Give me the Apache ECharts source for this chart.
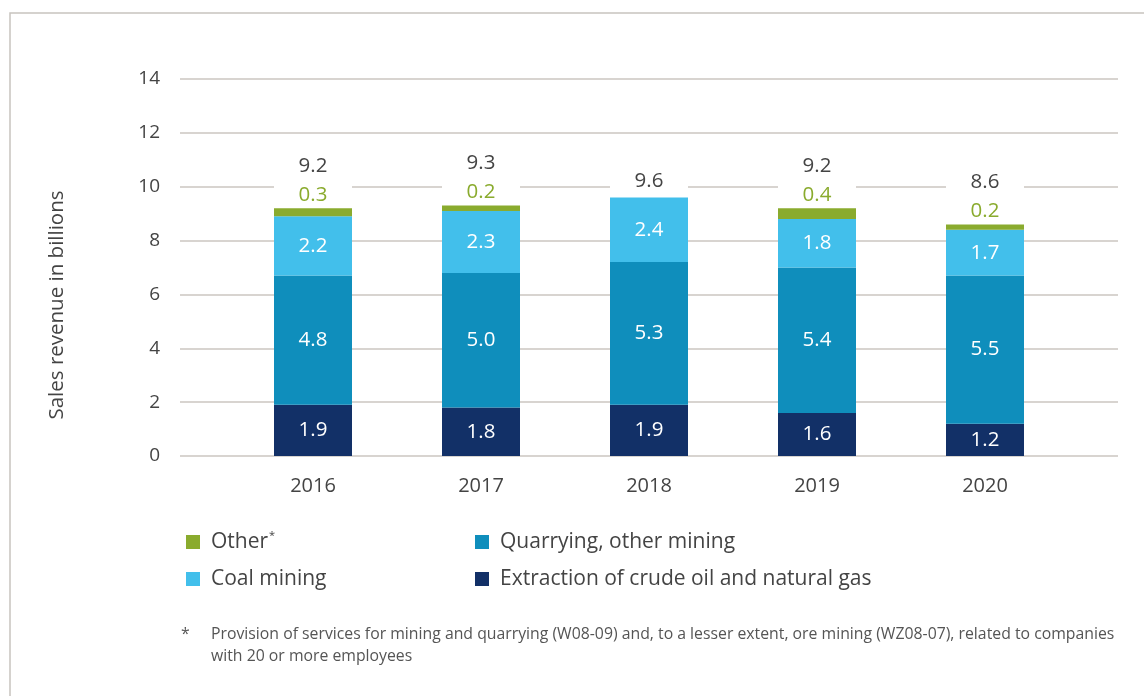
<!DOCTYPE html>
<html>
<head>
<meta charset="utf-8">
<title>Sales revenue in mining</title>
<script src="https://cdn.jsdelivr.net/npm/echarts@6/dist/echarts.min.js"></script>
<style>
  html, body { margin: 0; padding: 0; background: #ffffff; }
  #chart { width: 1144px; height: 696px; }
</style>
</head>
<body>
<div id="chart"></div>
<script>
// Sales revenue in billions, by branch of mining
const years = ['2016', '2017', '2018', '2019', '2020'];
const extraction = [1.9, 1.8, 1.9, 1.6, 1.2];
const quarrying = [4.8, 5.0, 5.3, 5.4, 5.5];
const coal = [2.2, 2.3, 2.4, 1.8, 1.7];
const other = [0.3, 0.2, 0.0, 0.4, 0.2];
const yTicks = { min: 0, max: 14, interval: 2 };

const FONT = '"Open Sans", "Noto Sans", sans-serif';
const TEXT = '#444444';
const GRID_LINE = '#cbc6c0';
const COLORS = {
  other: '#8aab2e',
  coal: '#42bfeb',
  quarrying: '#0f8ebc',
  extraction: '#123067'
};

const totals = years.map((_, i) => extraction[i] + quarrying[i] + coal[i] + other[i]);
// white panel stacked above each bar so the total labels sit on a clear background
const panel = years.map(() => 2.0);

const insideLabel = {
  show: true,
  position: 'inside',
  color: '#ffffff',
  fontSize: 20.5,
  fontFamily: FONT,
  formatter: p => p.value.toFixed(1)
};

const barBase = {
  type: 'bar',
  stack: 'total',
  xAxisIndex: 1,
  yAxisIndex: 1,
  barWidth: 78,
  emphasis: { disabled: true }
};

const chart = echarts.init(document.getElementById('chart'), null, { renderer: 'canvas' });

chart.setOption({
  animation: false,
  backgroundColor: '#ffffff',
  textStyle: { fontFamily: FONT },
  grid: [
    { left: 180, right: 26, top: 79, bottom: 240 },
    { left: 229, right: 75, top: 79, bottom: 240 }
  ],
  xAxis: [
    { gridIndex: 0, type: 'value', min: 0, max: 1, show: false },
    {
      gridIndex: 1,
      type: 'category',
      data: years,
      axisLine: { show: false },
      axisTick: { show: false },
      axisLabel: { color: TEXT, fontSize: 20, fontFamily: FONT, margin: 20 }
    }
  ],
  yAxis: [
    {
      gridIndex: 0,
      type: 'value',
      min: yTicks.min,
      max: yTicks.max,
      interval: yTicks.interval,
      axisLine: { show: false },
      axisTick: { show: false },
      axisLabel: { color: TEXT, fontSize: 19, fontFamily: FONT, margin: 20 },
      splitLine: { lineStyle: { color: GRID_LINE, width: 1.5 } }
    },
    {
      gridIndex: 1,
      type: 'value',
      min: yTicks.min,
      max: yTicks.max,
      interval: yTicks.interval,
      show: false,
      splitLine: { show: false }
    }
  ],
  legend: [
    {
      orient: 'vertical',
      left: 181,
      top: 525,
      itemWidth: 14,
      itemHeight: 14,
      itemGap: 13,
      icon: 'rect',
      selectedMode: false,
      data: ['Other', 'Coal mining'],
      formatter: name => (name === 'Other' ? 'Other{s|*}' : name),
      textStyle: {
        color: TEXT,
        fontSize: 21,
        fontFamily: FONT,
        lineHeight: 24,
        padding: [0, 0, 0, 6],
        rich: {
          s: { fontSize: 11, color: TEXT, fontFamily: FONT, verticalAlign: 'top', lineHeight: 24, padding: [0, 0, 10, 1] }
        }
      }
    },
    {
      orient: 'vertical',
      left: 470,
      top: 525,
      itemWidth: 14,
      itemHeight: 14,
      itemGap: 13,
      icon: 'rect',
      selectedMode: false,
      data: ['Quarrying, other mining', 'Extraction of crude oil and natural gas'],
      textStyle: {
        color: TEXT,
        fontSize: 21,
        fontFamily: FONT,
        lineHeight: 24,
        padding: [0, 0, 0, 6]
      }
    }
  ],
  series: [
    Object.assign({}, barBase, {
      name: 'Extraction of crude oil and natural gas',
      data: extraction,
      itemStyle: { color: COLORS.extraction },
      label: insideLabel
    }),
    Object.assign({}, barBase, {
      name: 'Quarrying, other mining',
      data: quarrying,
      itemStyle: { color: COLORS.quarrying },
      label: insideLabel
    }),
    Object.assign({}, barBase, {
      name: 'Coal mining',
      data: coal,
      itemStyle: { color: COLORS.coal },
      label: insideLabel
    }),
    Object.assign({}, barBase, {
      name: 'Other',
      data: other,
      itemStyle: { color: COLORS.other }
    }),
    Object.assign({}, barBase, {
      name: 'panel',
      z: 1,
      silent: true,
      data: panel,
      itemStyle: { color: '#ffffff' },
      label: {
        show: true,
        position: 'insideBottom',
        distance: 0,
        fontFamily: FONT,
        formatter: p => {
          const i = p.dataIndex;
          const t = '{t|' + totals[i].toFixed(1) + '}';
          return other[i] > 0 ? t + '\n{o|' + other[i].toFixed(1) + '}' : t;
        },
        rich: {
          t: { color: TEXT, fontSize: 20.5, fontFamily: FONT, lineHeight: 32, align: 'center' },
          o: { color: COLORS.other, fontSize: 20.5, fontFamily: FONT, lineHeight: 26, align: 'center' }
        }
      }
    })
  ],
  graphic: [
    {
      type: 'polyline',
      silent: true,
      shape: { points: [[10, 696], [10, 13], [1144, 13]] },
      style: { stroke: '#c8c4bf', lineWidth: 1.5, fill: null }
    },
    {
      type: 'text',
      x: 57,
      y: 305,
      rotation: Math.PI / 2,
      silent: true,
      style: {
        text: 'Sales revenue in billions',
        fill: TEXT,
        font: '20.5px ' + FONT,
        textAlign: 'center',
        textVerticalAlign: 'middle'
      }
    },
    {
      type: 'text',
      x: 181,
      y: 623,
      silent: true,
      style: { text: '*', fill: '#555555', font: '15.8px ' + FONT, lineHeight: 22 }
    },
    {
      type: 'text',
      x: 211,
      y: 623,
      silent: true,
      style: {
        text: 'Provision of services for mining and quarrying (W08-09) and, to a lesser extent, ore mining (WZ08-07), related to companies\nwith 20 or more employees',
        fill: '#555555',
        font: '15.8px ' + FONT,
        lineHeight: 22
      }
    }
  ]
});
</script>
</body>
</html>
